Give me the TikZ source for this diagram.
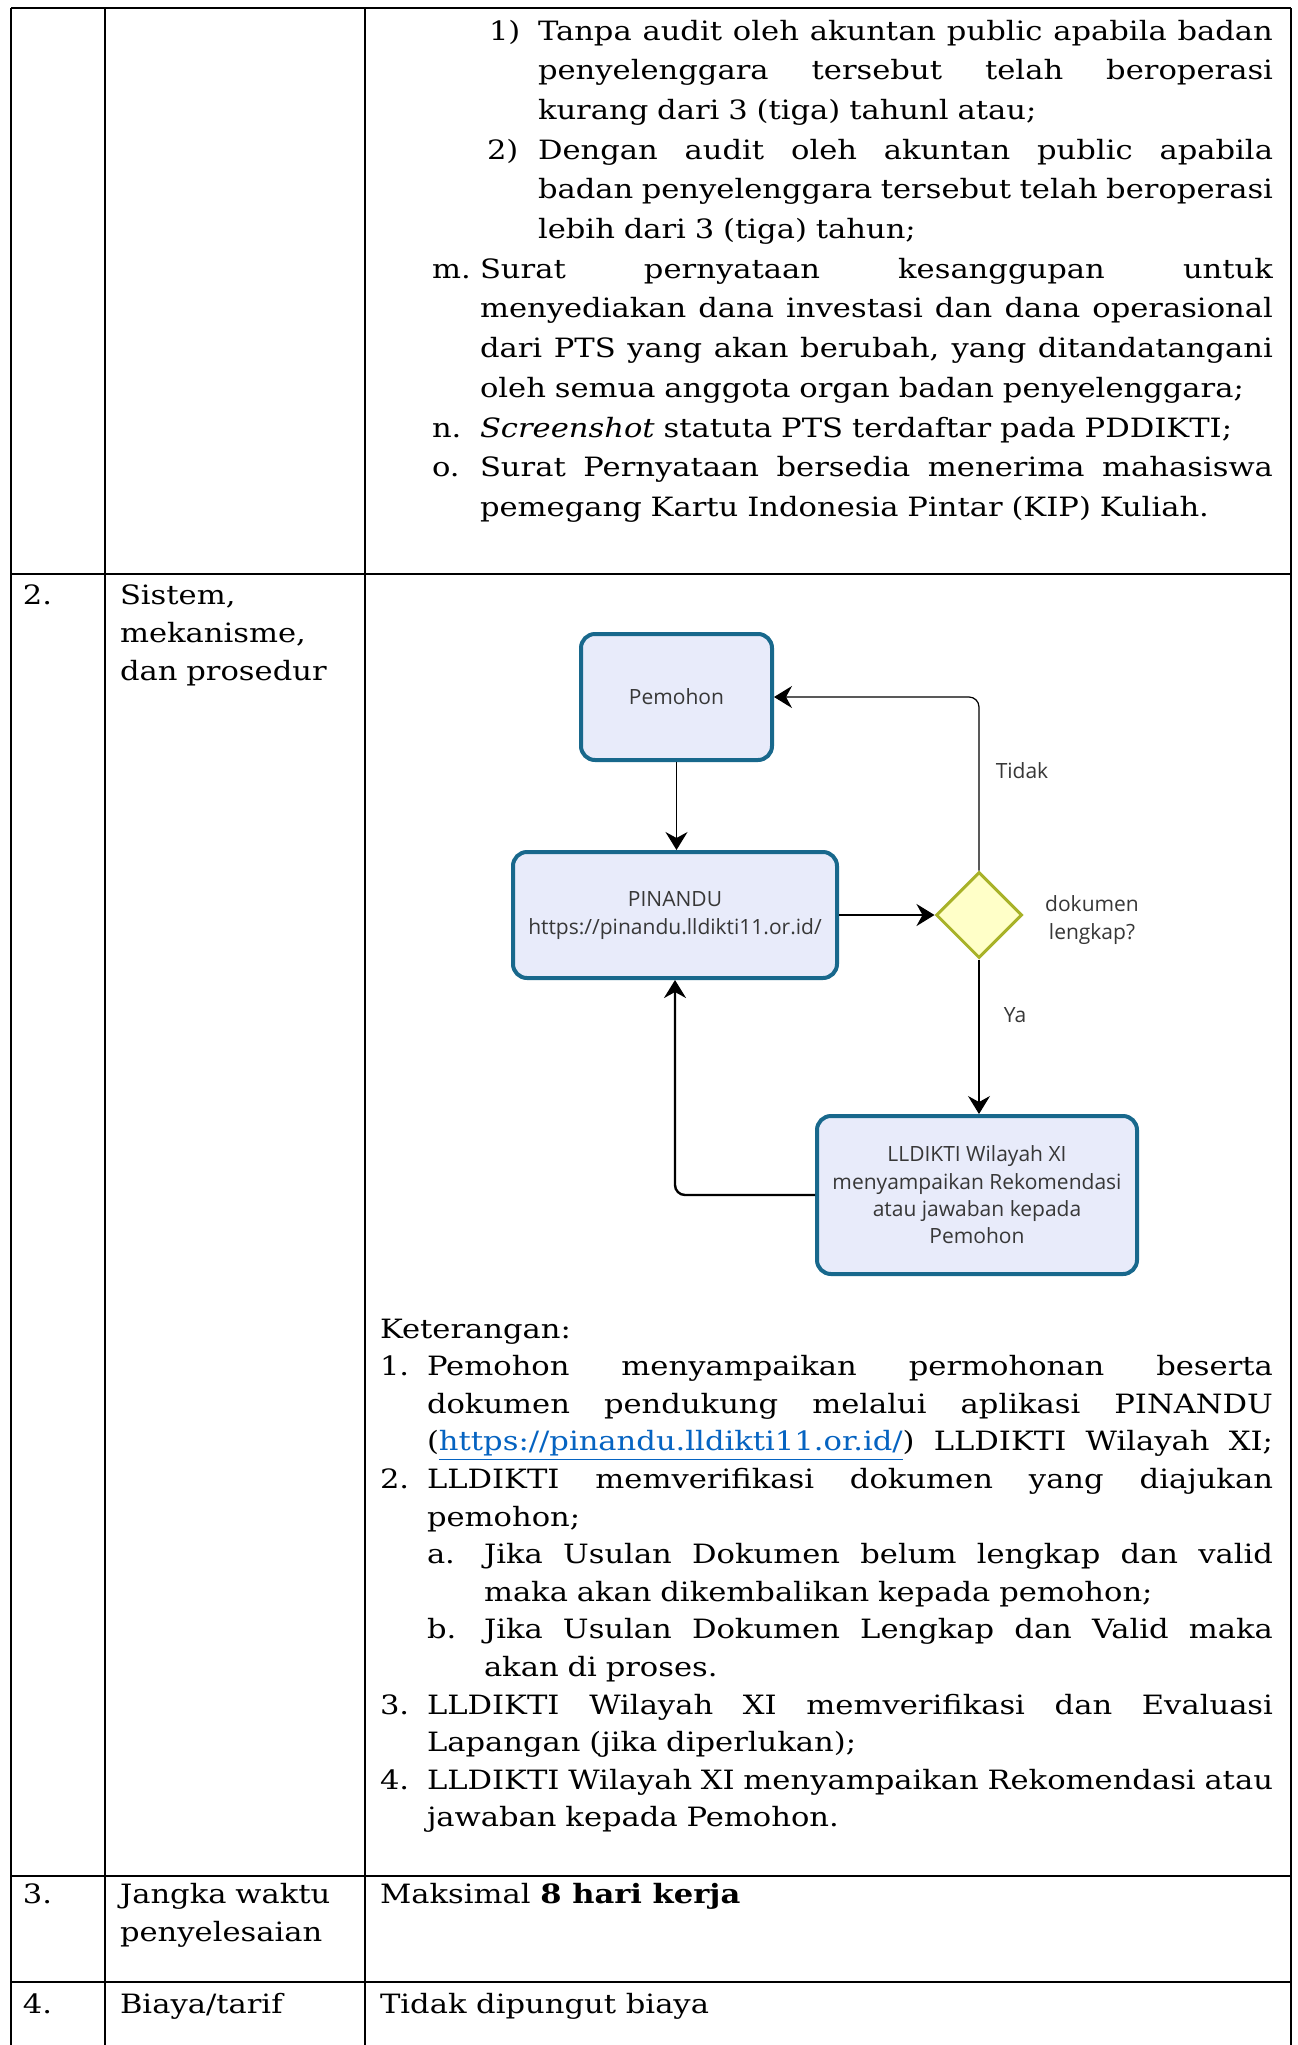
\documentclass[tikz,border=0pt]{standalone}
\usepackage{fontspec}
\setmainfont{DejaVu Serif}[FakeStretch=1.15]
\newfontfamily\flowfont{Open Sans}
\usetikzlibrary{arrows.meta,shapes.geometric}

\definecolor{boxline}{RGB}{24,104,140}
\definecolor{boxfill}{RGB}{232,235,250}
\definecolor{diafill}{RGB}{255,255,200}
\definecolor{dialine}{RGB}{168,178,40}
\definecolor{flowtext}{RGB}{55,55,55}
\definecolor{linkblue}{RGB}{5,99,193}

% a line set to the full measure, its word spaces stretched (or squeezed)
\newcommand{\jline}[2]{\leavevmode\hbox to #1{\spaceskip=\fontdimen2\font plus 1fil minus .35\fontdimen2\font
  \xspaceskip=\spaceskip #2}}
\newcommand{\weblink}[1]{\textcolor{linkblue}{\underline{#1}}}

\begin{document}
\begin{tikzpicture}[x=0.5pt,y=-0.5pt,
  grid/.style={line width=1.1pt,black},
  body/.style={anchor=base west,inner sep=0pt,outer sep=0pt,
    font=\fontsize{13.3}{19.85}\selectfont},
  bodyk/.style={anchor=base west,inner sep=0pt,outer sep=0pt,
    font=\fontsize{13.3}{18.8}\selectfont},
  para/.style={text width=#1,align=left},
  proc/.style={draw=boxline,fill=boxfill,line width=2pt,rounded corners=7pt,
    inner sep=0pt,align=center,text=flowtext,
    font=\flowfont\fontsize{10.5}{14}\selectfont},
  decide/.style={diamond,draw=dialine,fill=diafill,line width=1.5pt,
    inner sep=0pt,minimum width=43pt,minimum height=43pt},
  flowlabel/.style={inner sep=0pt,align=center,text=flowtext,
    font=\flowfont\fontsize{10.5}{14}\selectfont},
  arr/.style={-{Stealth[length=9pt,width=11pt,inset=3pt]}},
]
\useasboundingbox (0,0) rectangle (1297,2045);
\fill[white] (0,0) rectangle (1297,2045);

% ---------- table grid ----------
\draw[grid] (11,8) -- (1291,8);
\foreach \gx in {11,105,365,1291} \draw[grid] (\gx,8) -- (\gx,2045);
\foreach \gy in {574,1876,1982} \draw[grid] (11,\gy) -- (1291,\gy);

% ---------- row 1 (continued list) ----------
\node[body] (l1lab) at (489,40) {1)};
\node[body,para=367.5pt] (l1) at (538,40) {%
  \jline{367.5pt}{Tanpa audit oleh akuntan public apabila badan}\\
  \jline{367.5pt}{penyelenggara tersebut telah beroperasi}\\
  kurang dari 3 (tiga) tahunl atau;};
\node[body] (l2lab) at (487,159.1) {2)};
\node[body,para=367.5pt] (l2) at (538,159.1) {%
  \jline{367.5pt}{Dengan audit oleh akuntan public apabila}\\
  \jline{367.5pt}{badan penyelenggara tersebut telah beroperasi}\\
  lebih dari 3 (tiga) tahun;};
\node[body] (mlab) at (432,278.2) {m.};
\node[body,para=396.5pt] (m) at (480,278.2) {%
  \jline{396.5pt}{Surat pernyataan kesanggupan untuk}\\
  \jline{396.5pt}{menyediakan dana investasi dan dana operasional}\\
  \jline{396.5pt}{dari PTS yang akan berubah, yang ditandatangani}\\
  oleh semua anggota organ badan penyelenggara;};
\node[body] (nlab) at (432,437) {n.};
\node[body,para=396.5pt] (n) at (480,437) {\textit{Screenshot} statuta PTS terdaftar pada PDDIKTI;};
\node[body] (olab) at (432,476.7) {o.};
\node[body,para=396.5pt] (o) at (480,476.7) {%
  \jline{396.5pt}{Surat Pernyataan bersedia menerima mahasiswa}\\
  pemegang Kartu Indonesia Pintar (KIP) Kuliah.};

% ---------- row 2 ----------
\node[body] (no2) at (23,604) {2.};
\node[body,para=120pt,font=\fontsize{13.3}{19}\selectfont] (name2) at (120,604)
  {Sistem,\\mekanisme,\\dan prosedur};

% flowchart
\node[proc,minimum width=95.5pt,minimum height=63pt] (pem) at (676.5,697) {Pemohon};
\node[proc,minimum width=162pt,minimum height=63pt] (pin) at (675,915)
  {PINANDU\\https://pinandu.lldikti11.or.id/};
\node[decide] (dia) at (979,915) {};
\node[proc,minimum width=160pt,minimum height=79pt,font=\flowfont\fontsize{10.5}{13.7}\selectfont] (lld) at (977,1195)
  {LLDIKTI Wilayah XI\\menyampaikan Rekomendasi\\atau jawaban kepada\\Pemohon};
\node[flowlabel] (tidak) at (1022,771) {Tidak};
\node[flowlabel] (ya) at (1015,1015) {Ya};
\node[flowlabel] (dok) at (1092,920) {dokumen\\lengkap?};

\draw[arr,line width=0.8pt] (pem.south) -- (pem.south |- pin.north);
\draw[arr,line width=1.2pt] (pin.east) -- (dia.west);
\draw[arr,line width=0.6pt,rounded corners=5pt] (dia.north) |- (pem.east);
\draw[arr,line width=0.6pt] (dia.south) -- (dia.south |- lld.north);
\draw[arr,line width=1.2pt,rounded corners=5pt] (lld.west) -| (pin.south);

% explanation list
\node[bodyk] (ket) at (380,1338) {Keterangan:};
\node[bodyk] (k1lab) at (380,1375.6) {1.};
\node[bodyk,para=423pt] (k1) at (427,1375.6) {%
  \jline{423pt}{Pemohon menyampaikan permohonan beserta}\\
  \jline{423pt}{dokumen pendukung melalui aplikasi PINANDU}\\
  \jline{423pt}{(\weblink{https://pinandu.lldikti11.or.id/}) LLDIKTI Wilayah XI;}};
\node[bodyk] (k2lab) at (380,1488.4) {2.};
\node[bodyk,para=423pt] (k2) at (427,1488.4) {%
  \jline{423pt}{LLDIKTI memverifikasi dokumen yang diajukan}\\
  pemohon;};
\node[bodyk] (kalab) at (427,1563.6) {a.};
\node[bodyk,para=394.5pt] (ka) at (484,1563.6) {%
  \jline{394.5pt}{Jika Usulan Dokumen belum lengkap dan valid}\\
  maka akan dikembalikan kepada pemohon;};
\node[bodyk] (kblab) at (427,1638.8) {b.};
\node[bodyk,para=394.5pt] (kb) at (484,1638.8) {%
  \jline{394.5pt}{Jika Usulan Dokumen Lengkap dan Valid maka}\\
  akan di proses.};
\node[bodyk] (k3lab) at (380,1714) {3.};
\node[bodyk,para=423pt] (k3) at (427,1714) {%
  \jline{423pt}{LLDIKTI Wilayah XI memverifikasi dan Evaluasi}\\
  Lapangan (jika diperlukan);};
\node[bodyk] (k4lab) at (380,1789.2) {4.};
\node[bodyk,para=423pt] (k4) at (427,1789.2) {%
  \jline{423pt}{LLDIKTI Wilayah XI menyampaikan Rekomendasi atau}\\
  jawaban kepada Pemohon.};

% ---------- row 3 ----------
\node[body] (no3) at (23,1903) {3.};
\node[body,para=120pt,font=\fontsize{13.3}{19}\selectfont] (name3) at (120,1903)
  {Jangka waktu\\penyelesaian};
\node[body] (val3) at (380,1903) {Maksimal \textbf{8 hari kerja}};

% ---------- row 4 ----------
\node[body] (no4) at (23,2013) {4.};
\node[body] (name4) at (120,2013) {Biaya/tarif};
\node[body] (val4) at (380,2013) {Tidak dipungut biaya};
\end{tikzpicture}
\end{document}
